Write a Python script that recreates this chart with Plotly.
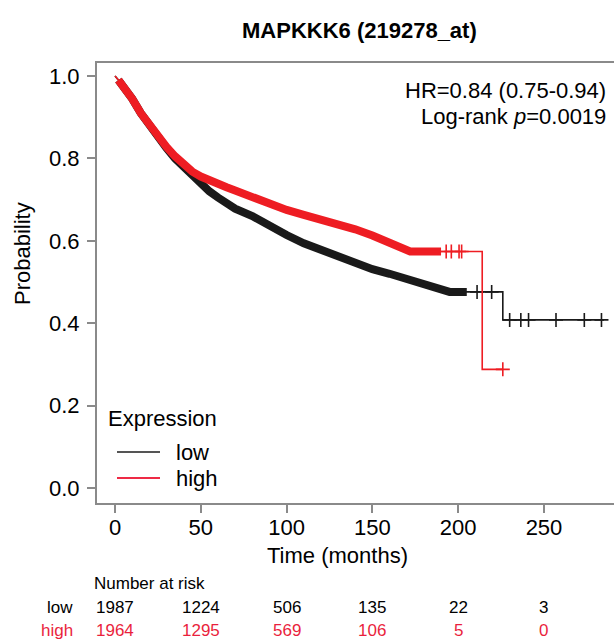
import plotly.graph_objects as go

# ---------------- data ----------------
low_time = [0, 2, 5, 10, 15, 20, 25, 30, 35, 40, 45, 50, 55, 60, 65, 70, 80, 90, 100,
            110, 120, 130, 140, 150, 160, 170, 180, 187, 195, 205, 226, 226, 285]
low_surv = [1.0, 0.99, 0.975, 0.945, 0.91, 0.88, 0.85, 0.825, 0.80, 0.78, 0.76, 0.738,
            0.72, 0.705, 0.69, 0.678, 0.66, 0.636, 0.614, 0.594, 0.577, 0.56, 0.545,
            0.531, 0.52, 0.506, 0.494, 0.485, 0.476, 0.476, 0.476, 0.408, 0.408]

high_time = [0, 2, 5, 10, 15, 20, 25, 30, 35, 40, 45, 50, 55, 60, 65, 70, 80, 90, 100,
             110, 120, 130, 140, 150, 160, 168, 172, 190, 214, 214, 226]
high_surv = [1.0, 0.99, 0.975, 0.945, 0.91, 0.88, 0.853, 0.828, 0.805, 0.785, 0.768,
             0.756, 0.746, 0.738, 0.73, 0.722, 0.706, 0.688, 0.675, 0.663, 0.652, 0.641,
             0.628, 0.613, 0.597, 0.583, 0.574, 0.574, 0.574, 0.288, 0.288]

# censoring marks in the sparse tail
low_cens_time = [211, 219.5, 230, 236.5, 241, 257, 273.5, 283.5]
low_cens_surv = [0.476, 0.476, 0.408, 0.408, 0.408, 0.408, 0.408, 0.408]
high_cens_time = [193, 196, 200.5, 202, 226]
high_cens_surv = [0.574, 0.574, 0.574, 0.574, 0.288]

# end of the densely censored stretch (drawn as a thick band)
low_dense_end = 205
high_dense_end = 190

# number at risk
risk_times = [0, 50, 100, 150, 200, 250]
risk_low = [1987, 1224, 506, 135, 22, 3]
risk_high = [1964, 1295, 569, 106, 5, 0]

x_ticks = [0, 50, 100, 150, 200, 250]
y_ticks = [0.0, 0.2, 0.4, 0.6, 0.8, 1.0]
y_ticktext = ["0.0", "0.2", "0.4", "0.6", "0.8", "1.0"]

title_text = "MAPKKK6 (219278_at)"
hr_text = "HR=0.84 (0.75-0.94)"
p_text = "Log-rank <i>p</i>=0.0019"

# ---------------- layout helpers ----------------
W, H = 614, 640
L, R, T, B = 97, 0, 63, 137
PW, PH = W - L - R, H - T - B
FONT = "Liberation Sans, Arial, sans-serif"
AXIS_GREY = "#8a8a8a"
RED = "#ee1d23"
TXT_RED = "#ea1f3d"


def pxx(pix):
    return (pix - L) / PW


def pxy(pix):
    return (H - B - pix) / PH


fig = go.Figure()


def add_group(times, surv, dense_end, cens_t, cens_s, color, name):
    bt = [t for t in times if 1 <= t <= dense_end]
    bs = [s for t, s in zip(times, surv) if 1 <= t <= dense_end]
    fig.add_trace(go.Scatter(x=bt, y=bs, mode="lines", line=dict(color=color, width=8),
                             hoverinfo="skip", showlegend=False))
    fig.add_trace(go.Scatter(x=times, y=surv, mode="lines", line=dict(color=color, width=1.6),
                             name=name, showlegend=False))
    fig.add_trace(go.Scatter(x=cens_t, y=cens_s, mode="markers",
                             marker=dict(symbol="cross-thin-open", size=10, color=color,
                                         line=dict(color=color, width=1.6)),
                             hoverinfo="skip", showlegend=False))


add_group(low_time, low_surv, low_dense_end, low_cens_time, low_cens_surv, "#1a1a1a", "low")
add_group(high_time, high_surv, high_dense_end, high_cens_time, high_cens_surv, RED, "high")


def ann(text, x, y, size, color="black", xanchor="center", xref="paper", **kw):
    d = dict(text=text, x=x, y=pxy(y), xref=xref, yref="paper", xanchor=xanchor,
             yanchor="middle", showarrow=False, font=dict(size=size, color=color))
    d.update(kw)
    return d


annotations = [
    ann("<b>" + title_text + "</b>", pxx(359), 30, 22),
    ann("Time (months)", pxx(337), 555, 22),
    ann("Probability", pxx(22), 254, 22, textangle=-90),
    ann(hr_text, pxx(608), 90, 22, xanchor="right"),
    ann(p_text, pxx(608), 116, 22, xanchor="right"),
    ann("Expression", pxx(106), 418, 22, xanchor="left"),
    ann("low", pxx(174), 452, 22, xanchor="left"),
    ann("high", pxx(174), 478, 22, xanchor="left"),
    ann("Number at risk", pxx(92), 583, 17, xanchor="left"),
    ann("low", pxx(75), 607, 17, xanchor="right"),
    ann("high", pxx(75), 630, 17, color=TXT_RED, xanchor="right"),
]
for t, n in zip(risk_times, risk_low):
    annotations.append(ann(str(n), t, 607, 17, xref="x"))
for t, n in zip(risk_times, risk_high):
    annotations.append(ann(str(n), t, 630, 17, color=TXT_RED, xref="x"))

shapes = [
    dict(type="line", xref="paper", yref="paper", x0=pxx(117), x1=pxx(160), y0=pxy(452),
         y1=pxy(452), line=dict(color="#555555", width=2)),
    dict(type="line", xref="paper", yref="paper", x0=pxx(117), x1=pxx(160), y0=pxy(478),
         y1=pxy(478), line=dict(color="#ee2a45", width=2)),
]

fig.update_layout(
    width=W, height=H,
    margin=dict(l=L, r=R, t=T, b=B, pad=0),
    paper_bgcolor="white", plot_bgcolor="white",
    font=dict(family=FONT, color="black"),
    showlegend=False,
    annotations=annotations,
    shapes=shapes,
    xaxis=dict(range=[-10.5, 290.8], tickvals=x_ticks, showgrid=False, zeroline=False,
               showline=True, mirror=True, linecolor=AXIS_GREY, linewidth=2,
               ticks="outside", ticklen=8, tickwidth=2, tickcolor=AXIS_GREY,
               tickfont=dict(size=22, color="black"), ticklabelstandoff=-4),
    yaxis=dict(range=[-0.0364, 1.0316], tickvals=y_ticks, ticktext=y_ticktext,
               showgrid=False, zeroline=False, showline=True, mirror=False,
               linecolor=AXIS_GREY, linewidth=2, ticks="outside", ticklen=8, tickwidth=2,
               tickcolor=AXIS_GREY, tickfont=dict(size=22, color="black"),
               ticklabelstandoff=3),
)

fig.write_html("out.html", config={"displayModeBar": False},
               post_script="document.body.style.margin='0';")
